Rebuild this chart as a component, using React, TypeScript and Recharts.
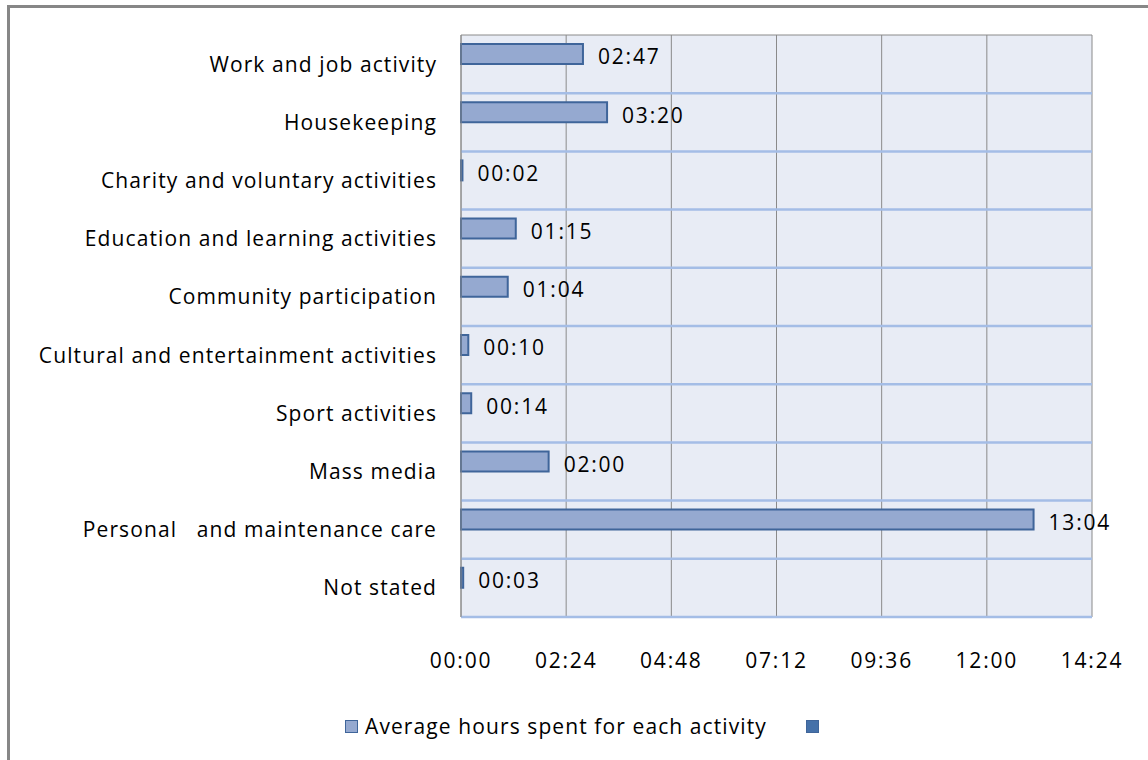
import React from "react";
import { BarChart, Bar, XAxis, YAxis, CartesianGrid, LabelList, Legend } from "recharts";

const categories = [
  "Work and job activity",
  "Housekeeping",
  "Charity and voluntary activities",
  "Education and learning activities",
  "Community participation",
  "Cultural and entertainment activities",
  "Sport activities",
  "Mass media",
  "Personal \u00A0 and maintenance care",
  "Not stated",
];
// minutes
const averageMinutes = [167, 200, 2, 75, 64, 10, 14, 120, 784, 3];
const secondSeries = [null, null, null, null, null, null, null, null, null, null];
const xTicks = [0, 144, 288, 432, 576, 720, 864];
const seriesName = "Average hours spent for each activity";

const FONT = "'Open Sans', sans-serif";
const FONT_SIZE = 21;
const LS_TEXT = 1.1;
const LS_NUM = 1.8;

const fmt = (m: number) => {
  const h = Math.floor(m / 60);
  const mm = Math.round(m % 60);
  return `${String(h).padStart(2, "0")}:${String(mm).padStart(2, "0")}`;
};

const data = categories.map((c, i) => ({ name: c, avg: averageMinutes[i], s2: secondSeries[i] }));

const W = 1148;
const H = 760;
const M = { top: 35, right: 56, bottom: 53, left: 0 };

const LegendContent = () => (
  <div style={{ position: "relative", width: W, height: 30, fontFamily: FONT, fontSize: FONT_SIZE, letterSpacing: LS_TEXT, color: "#000" }}>
    <div style={{ position: "absolute", left: 345, top: 9, width: 11, height: 11, background: "#95A9D0", border: "1px solid #3F659A" }} />
    <div style={{ position: "absolute", left: 365, top: 0, lineHeight: "30px", whiteSpace: "pre" }}>{seriesName}</div>
    <div style={{ position: "absolute", left: 806, top: 9, width: 11, height: 11, background: "#4571A9", border: "1px solid #3F659A" }} />
  </div>
);

export default function App() {
  const n = categories.length;
  return (
    <div style={{ position: "absolute", left: 0, top: 0, width: W, height: H, overflow: "hidden", background: "#fff" }}>
      <div style={{ position: "absolute", left: 7, top: 5, width: W + 50, height: H + 50, border: "3px solid #878787", boxSizing: "border-box" }} />
      <div style={{ position: "absolute", left: 0, top: 0 }}>
        <BarChart
          width={W}
          height={H}
          data={data}
          layout="vertical"
          margin={M}
          barCategoryGap={9}
          barGap={0}
        >
          <CartesianGrid
            horizontal
            vertical
            stroke="#8A8A8A"
            strokeWidth={1}
            fill="#E8ECF5"
            fillOpacity={1}
            horizontalCoordinatesGenerator={({ offset }: any) => [offset.top]}
          />
          <CartesianGrid
            vertical={false}
            horizontal
            stroke="#A4BDE6"
            strokeWidth={2.5}
            horizontalCoordinatesGenerator={({ offset }: any) =>
              Array.from({ length: n }, (_, i) => offset.top + ((i + 1) * offset.height) / n)
            }
          />
          <XAxis
            type="number"
            domain={[0, 864]}
            ticks={xTicks}
            tickFormatter={fmt}
            axisLine={false}
            tickLine={false}
            tickSize={0}
            tickMargin={36}
            height={60}
            interval={0}
            tick={{ fill: "#000", fontFamily: FONT, fontSize: FONT_SIZE, letterSpacing: LS_NUM }}
          />
          <YAxis
            type="category"
            dataKey="name"
            width={461}
            axisLine={{ stroke: "#8A8A8A" }}
            tickLine={false}
            tickSize={0}
            tickMargin={24}
            interval={0}
            tick={{ fill: "#000", fontFamily: FONT, fontSize: FONT_SIZE, letterSpacing: LS_TEXT }}
          />
          <Legend verticalAlign="bottom" align="left" height={30} wrapperStyle={{ left: 0, top: 711, width: W }} content={<LegendContent />} />
          <Bar dataKey="avg" name={seriesName} fill="#95A9D0" stroke="#3F659A" strokeWidth={2} isAnimationActive={false}>
            <LabelList
              dataKey="avg"
              position="right"
              offset={15}
              dy={3}
              formatter={(v: any) => fmt(Number(v))}
              style={{ fill: "#000", fontFamily: FONT, fontSize: FONT_SIZE, letterSpacing: LS_NUM }}
            />
          </Bar>
          <Bar dataKey="s2" name=" " fill="#4571A9" isAnimationActive={false} />
        </BarChart>
      </div>
    </div>
  );
}
